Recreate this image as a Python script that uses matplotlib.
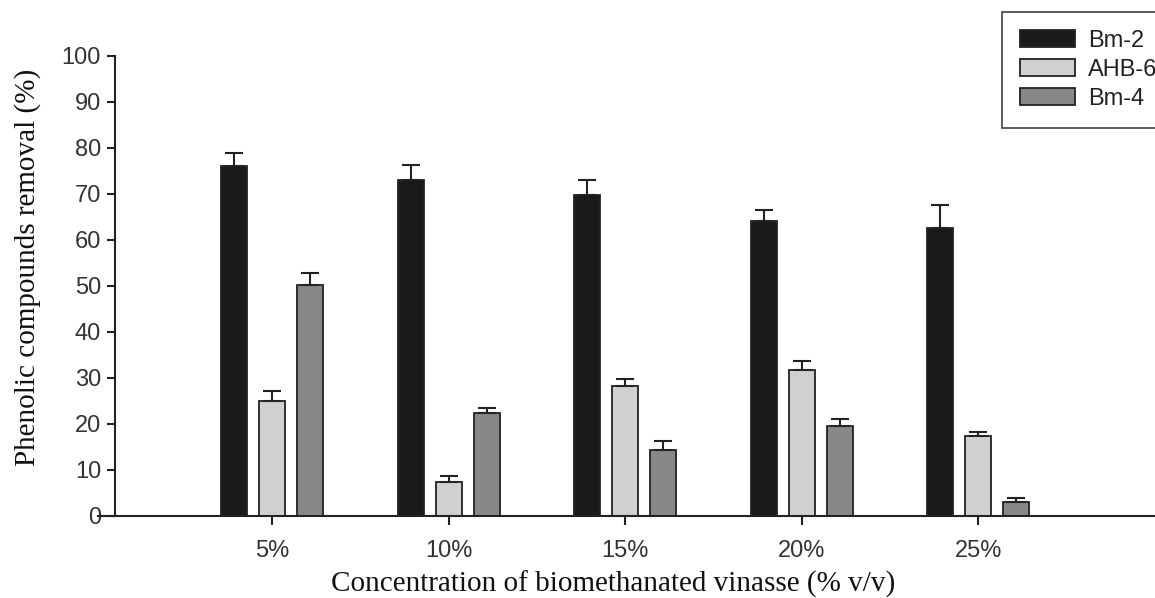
import numpy as np
import matplotlib
matplotlib.use("Agg")
import matplotlib.pyplot as plt

# concentrations of biomethanated vinasse
categories = ['5%', '10%', '15%', '20%', '25%']

# phenolic compounds removal (%) and upper error per strain
bm2 = [76.0, 73.0, 69.8, 64.1, 62.7]
bm2_err = [2.9, 3.3, 3.2, 2.5, 4.8]
ahb6 = [25.1, 7.5, 28.3, 31.7, 17.4]
ahb6_err = [2.1, 1.2, 1.4, 2.1, 0.9]
bm4 = [50.2, 22.3, 14.3, 19.6, 3.0]
bm4_err = [2.6, 1.1, 1.9, 1.4, 0.9]

series = [('Bm-2', bm2, bm2_err, '#1a1a1a'),
          ('AHB-6', ahb6, ahb6_err, '#d0d0d0'),
          ('Bm-4', bm4, bm4_err, '#888888')]

plt.rcParams['font.family'] = ['Liberation Sans', 'DejaVu Sans']

fig = plt.figure(figsize=(11.55, 5.98), dpi=100)
ax = fig.add_axes([115 / 1155, 82 / 598, 1040 / 1155, 460 / 598])

x = np.arange(len(categories))
width = 0.147
offset = 0.215
edge = '#222222'

for i, (name, vals, errs, color) in enumerate(series):
    pos = x + (i - 1) * offset
    ax.bar(pos, vals, width, color=color, edgecolor=edge, linewidth=1.3,
           label=name, zorder=2)
    ax.errorbar(pos, vals, yerr=[np.zeros(len(errs)), errs], fmt='none',
                ecolor=edge, elinewidth=1.5, capsize=6.5, capthick=1.5, zorder=3)

ax.set_xlim(-0.89, 5.0)
ax.set_ylim(0, 100)
ax.set_yticks(np.arange(0, 101, 10))
ax.set_xticks(x)
ax.set_xticklabels(categories)

for s in ['top', 'right']:
    ax.spines[s].set_visible(False)
for s in ['left', 'bottom']:
    ax.spines[s].set_linewidth(1.5)
    ax.spines[s].set_color('#222222')

ax.tick_params(axis='both', direction='out', width=1.5, color='#222222',
               labelsize=17, labelcolor='#333333')
ax.tick_params(axis='y', length=6, pad=4)
ax.tick_params(axis='x', length=6.5, pad=11)

# x-axis line runs a little past the y-axis, as in the original
ax.plot([-0.017, 0], [0, 0], transform=ax.get_yaxis_transform(),
        color='#222222', lw=1.5, clip_on=False, solid_capstyle='butt')

ax.set_ylabel('Phenolic compounds removal (%)', family='Liberation Serif',
              fontsize=21, color='#111111')
ax.set_xlabel('Concentration of biomethanated vinasse (% v/v)',
              family='Liberation Serif', fontsize=21, color='#111111')
ax.xaxis.set_label_coords(0.479, -0.12)
ax.yaxis.set_label_coords(-0.071, 0.54)

leg = fig.legend(loc='upper left', bbox_to_anchor=(1002 / 1155, 1 - 12 / 598),
                 fontsize=17, frameon=True, fancybox=False, borderpad=0.75,
                 handlelength=2.33, handleheight=0.76, handletextpad=0.55,
                 labelspacing=0.3, borderaxespad=0)
leg.get_frame().set_edgecolor('#222222')
leg.get_frame().set_linewidth(1.3)
for t in leg.get_texts():
    t.set_color('#222222')

fig.savefig('out.png', dpi=100)
